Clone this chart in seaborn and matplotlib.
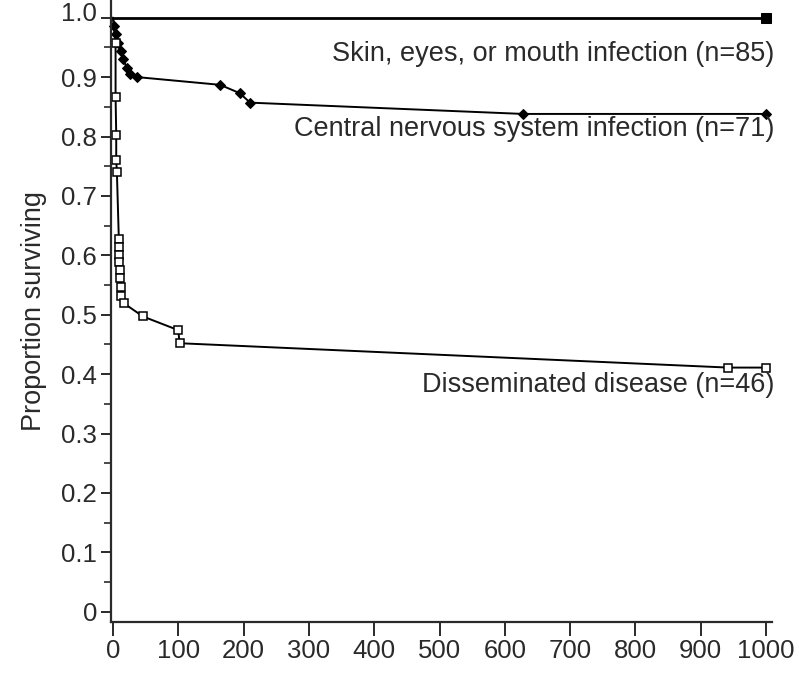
import matplotlib
matplotlib.use("Agg")
import matplotlib.pyplot as plt
import matplotlib.transforms as mtransforms
from matplotlib.ticker import MultipleLocator
import numpy as np
import pandas as pd
import seaborn as sns

# Survival by clinical presentation (days of follow-up vs proportion surviving)
skin_days = [0, 1000]
skin_surv = [1.0, 1.0]

cns_days = [0, 2, 5, 8, 12, 16, 21, 26, 37, 164, 194, 210, 628, 1000]
cns_surv = [1.0, 0.986, 0.972, 0.958, 0.944, 0.930, 0.915, 0.905, 0.900,
            0.887, 0.873, 0.857, 0.838, 0.838]

dis_days = [0, 4, 4, 5, 5, 6, 9, 9, 10, 10, 11, 11, 12, 13, 17, 46, 100, 102, 942, 1000]
dis_surv = [1.0, 0.957, 0.867, 0.803, 0.760, 0.741, 0.627, 0.614, 0.601, 0.589,
            0.575, 0.562, 0.547, 0.532, 0.519, 0.497, 0.474, 0.452, 0.411, 0.411]

labels = ["Skin, eyes, or mouth infection (n=85)",
          "Central nervous system infection (n=71)",
          "Disseminated disease (n=46)"]
label_y = [0.939, 0.813, 0.381]

x_ticks = list(range(0, 1001, 100))
y_ticks = [0, 0.1, 0.2, 0.3, 0.4, 0.5, 0.6, 0.7, 0.8, 0.9, 1.0]
y_tick_labels = ["0", "0.1", "0.2", "0.3", "0.4", "0.5", "0.6", "0.7", "0.8", "0.9", "1.0"]

sns.set_theme(style="ticks")
plt.rcParams["font.family"] = ["Liberation Sans", "DejaVu Sans"]
ink = "#2a2a2a"

fig = plt.figure(figsize=(7.99, 6.75), dpi=100)
ax = fig.add_axes([111 / 799, 1 - 622 / 675, (772 - 111) / 799, 622 / 675])

skin = pd.DataFrame({"days": skin_days, "surv": skin_surv})
cns = pd.DataFrame({"days": cns_days, "surv": cns_surv})
dis = pd.DataFrame({"days": dis_days, "surv": dis_surv})

sns.lineplot(data=skin, x="days", y="surv", ax=ax, sort=False, estimator=None,
             color="black", lw=2.0, marker="s", ms=7, mfc="black", mec="black",
             markevery=[1], clip_on=False)
sns.lineplot(data=cns, x="days", y="surv", ax=ax, sort=False, estimator=None,
             color="black", lw=1.4, marker="D", ms=5.5, mfc="black", mec="black",
             markevery=list(range(1, len(cns_days))), clip_on=False)
sns.lineplot(data=dis, x="days", y="surv", ax=ax, sort=False, estimator=None,
             color="black", lw=1.4, marker="s", ms=6, mfc="white", mec="black",
             mew=1.1, markevery=list(range(1, len(dis_days))), clip_on=False)

for txt, yy in zip(labels, label_y):
    ax.text(1013, yy, txt, ha="right", va="center", fontsize=19.5, color=ink)

ax.set_xlim(-3, 1009)
ax.set_ylim(-0.0173, 1.0298)
ax.set_xticks(x_ticks)
ax.set_xticklabels([str(v) for v in x_ticks])
ax.set_yticks(y_ticks)
ax.set_yticklabels(y_tick_labels)
ax.yaxis.set_minor_locator(MultipleLocator(0.05))

ax.set_xlabel("")
ax.set_ylabel("Proportion surviving", fontsize=19.5, color=ink, labelpad=10)

for side in ["top", "right"]:
    ax.spines[side].set_visible(False)
for side in ["left", "bottom"]:
    ax.spines[side].set_color(ink)
    ax.spines[side].set_linewidth(1.6)

ax.tick_params(axis="both", which="major", labelsize=18.5, colors=ink,
               width=1.4, direction="out")
ax.tick_params(axis="y", which="major", length=7, pad=3)
ax.tick_params(axis="y", which="minor", length=5, width=1.2, color=ink)
ax.tick_params(axis="x", which="major", length=10, pad=2)

# nudge the top tick label up so it sits against the upper edge
top_lbl = ax.get_yticklabels()[-1]
top_lbl.set_transform(top_lbl.get_transform() +
                      mtransforms.ScaledTranslation(0, 6 / 100, fig.dpi_scale_trans))

fig.savefig("out.png", dpi=100, facecolor="white")
